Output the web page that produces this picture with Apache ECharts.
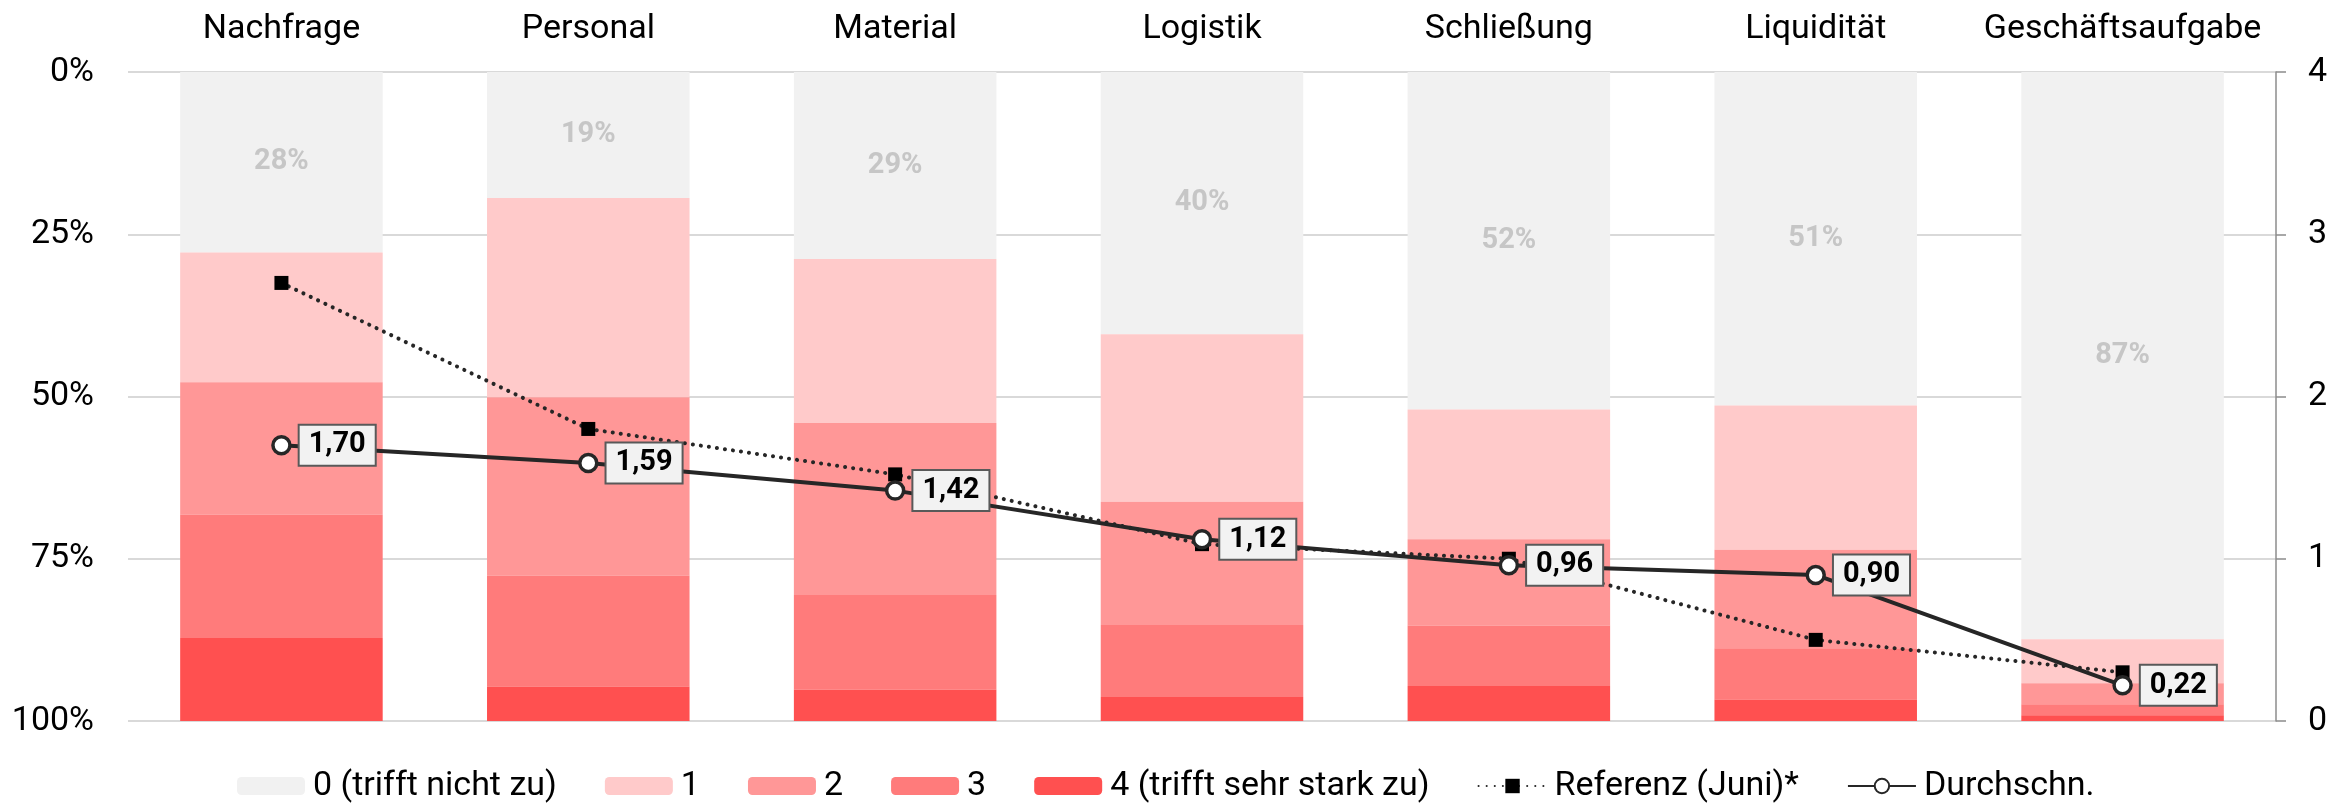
<!DOCTYPE html>
<html>
<head>
<meta charset="utf-8">
<script src="https://cdn.jsdelivr.net/npm/echarts@6/dist/echarts.min.js"></script>
<style>
html,body{margin:0;padding:0;background:#fff;}
#chart{width:2351px;height:803px;}
</style>
</head>
<body>
<div id="chart"></div>
<script>
const categories = ['Nachfrage','Personal','Material','Logistik','Schließung','Liquidität','Geschäftsaufgabe'];
const seriesNames = ['0 (trifft nicht zu)','1','2','3','4 (trifft sehr stark zu)'];
const level0 = [27.8, 19.4, 28.8, 40.4, 52.0, 51.4, 87.4];
const level1 = [20.0, 30.7, 25.3, 25.8, 20.0, 22.2, 6.8];
const level2 = [20.4, 27.5, 26.5, 19.0, 13.3, 15.2, 3.2];
const level3 = [19.0, 17.1, 14.6, 11.1, 9.3, 7.9, 1.7];
const level4 = [12.8, 5.3, 4.8, 3.7, 5.4, 3.3, 0.9];
const referenz = [2.70, 1.80, 1.52, 1.09, 1.00, 0.50, 0.30];
const durchschnitt = [1.70, 1.59, 1.42, 1.12, 0.96, 0.90, 0.22];
const leftTicks = [0, 25, 50, 75, 100];
const rightTicks = [0, 1, 2, 3, 4];

const colors = ['#f1f1f1','#ffcaca','#ff9797','#ff7b7b','#ff5050'];
const levels = [level0, level1, level2, level3, level4];
const FONT = 'Roboto';

const barSeries = levels.map((arr, i) => ({
  name: seriesNames[i],
  type: 'bar',
  stack: 'total',
  yAxisIndex: 0,
  barCategoryGap: '34%',
  data: arr,
  itemStyle: { color: colors[i] },
  emphasis: { disabled: true },
  label: i === 0 ? {
    show: true,
    position: 'inside',
    formatter: p => Math.round(p.value) + '%',
    fontFamily: FONT,
    fontWeight: 'bold',
    fontSize: 29,
    color: '#c6c6c6'
  } : { show: false },
  z: 2
}));

const chart = echarts.init(document.getElementById('chart'), null, { renderer: 'canvas' });
chart.setOption({
  animation: false,
  textStyle: { fontFamily: FONT },
  grid: { left: 128, right: 75, top: 72, bottom: 82, containLabel: false },
  legend: {
    left: 232,
    top: 764,
    itemWidth: 68,
    itemHeight: 18,
    itemGap: 48,
    textStyle: { fontFamily: FONT, fontSize: 34, color: '#000', padding: [0, 0, 0, 3] },
    data: seriesNames.concat(['Referenz (Juni)*','Durchschn.'])
  },
  xAxis: {
    type: 'category',
    position: 'top',
    data: categories,
    axisLine: { show: false },
    axisTick: { show: false },
    axisLabel: { interval: 0, fontFamily: FONT, fontSize: 34, color: '#000', margin: 26 }
  },
  yAxis: [
    {
      type: 'value',
      inverse: true,
      min: leftTicks[0],
      max: leftTicks[leftTicks.length - 1],
      interval: 25,
      axisLine: { show: false },
      axisTick: { show: false },
      axisLabel: { fontFamily: FONT, fontSize: 34, color: '#000', margin: 34, formatter: v => v + '%' },
      splitLine: { show: true, lineStyle: { color: '#d9d9d9', width: 2 } }
    },
    {
      type: 'value',
      position: 'right',
      min: rightTicks[0],
      max: rightTicks[rightTicks.length - 1],
      interval: 1,
      axisLine: { show: true, lineStyle: { color: '#8c8c8c', width: 1.5 } },
      axisTick: { show: true, length: 10, lineStyle: { color: '#8c8c8c', width: 1.5 } },
      axisLabel: { fontFamily: FONT, fontSize: 34, color: '#000', margin: 32 },
      splitLine: { show: false }
    }
  ],
  series: barSeries.concat([
    {
      name: 'Referenz (Juni)*',
      type: 'line',
      yAxisIndex: 1,
      data: referenz,
      symbol: 'rect',
      symbolSize: 14,
      itemStyle: { color: '#000' },
      lineStyle: { color: '#262626', width: 4, type: [0.1, 8], cap: 'round' },
      emphasis: { disabled: true },
      z: 5
    },
    {
      name: 'Durchschn.',
      type: 'line',
      yAxisIndex: 1,
      data: durchschnitt,
      symbol: 'circle',
      symbolSize: 17,
      itemStyle: { color: '#fff', borderColor: '#262626', borderWidth: 3.5 },
      lineStyle: { color: '#262626', width: 4 },
      emphasis: { disabled: true },
      label: {
        show: true,
        position: 'right',
        distance: 8,
        formatter: p => p.value.toFixed(2).replace('.', ','),
        fontFamily: FONT,
        fontWeight: 'bold',
        fontSize: 29,
        color: '#000',
        backgroundColor: '#f2f2f2',
        borderColor: '#595959',
        borderWidth: 2,
        padding: [6, 9, 4, 9]
      },
      z: 10
    }
  ])
});
</script>
</body>
</html>
